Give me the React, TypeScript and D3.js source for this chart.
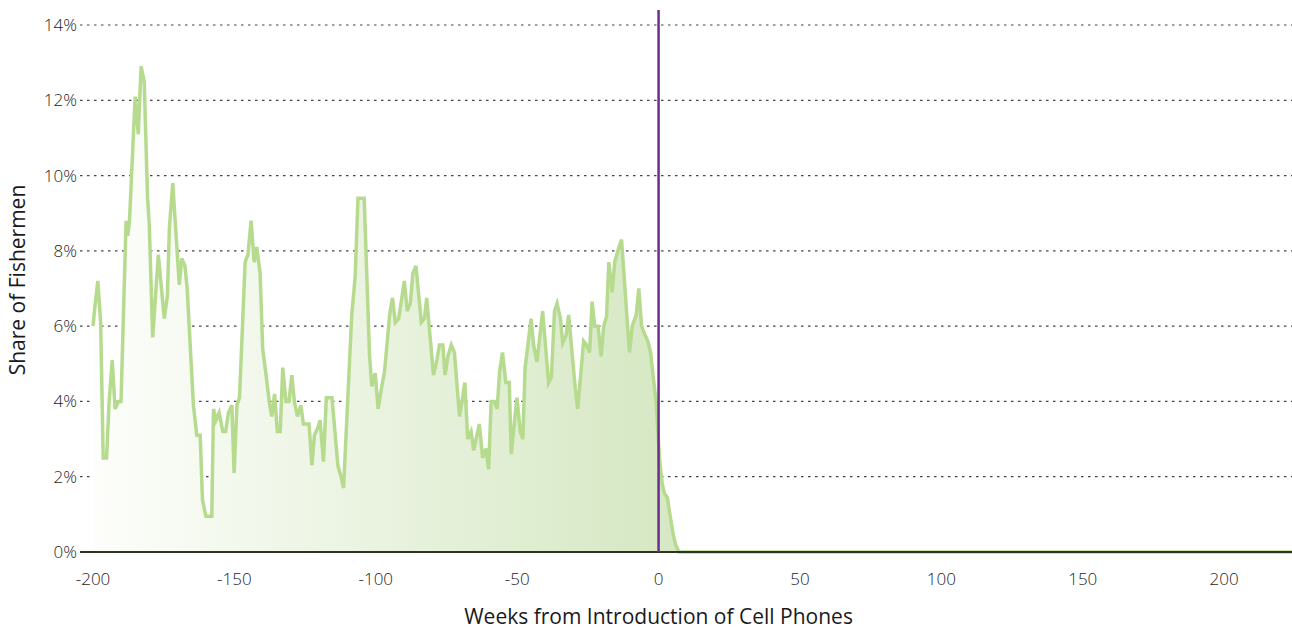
import * as d3 from "d3";
import { useEffect, useRef } from "react";

// weeks from introduction (x) and share of fishermen in % (y)
const weeks = [
  -200, -199.5, -198.3, -197.3, -196.4, -195.2, -194.3, -193.2, -192.2, -191, -190.1,
  -188.3, -187.7, -187.1, -185.1, -184, -183, -181.9, -180.7, -180.1, -178.9, -176.9,
  -174.8, -173.7, -173, -171.8, -169.5, -168.6, -167.5, -166.7, -164.5, -163.3, -162.1,
  -161.3, -160.1, -158, -157.4, -156.5, -155.4, -154.1, -153.1, -152.1, -150.9, -150.1,
  -149.1, -148.2, -146.2, -145.2, -144.1, -143, -142.1, -140.9, -140, -138.8, -137.7,
  -136.8, -135.8, -134.8, -133.8, -132.9, -131.8, -130.7, -129.7, -128.8, -127.7, -126.5,
  -125.6, -123.6, -122.6, -121.7, -120.5, -119.7, -118.5, -117.5, -115.5, -113.4, -112.3,
  -111.4, -108.5, -107.3, -106.3, -104.1, -102.2, -101.4, -100.2, -99.2, -98.1, -96.9,
  -95.1, -94.1, -93.1, -91.9, -89.9, -88.9, -87.8, -86.9, -85.8, -83.9, -82.8, -82,
  -79.6, -78.4, -77.5, -76.3, -75.5, -74.5, -73.3, -72.2, -70.4, -69.3, -68.5, -67.5,
  -66.3, -65.4, -63.4, -62.2, -61, -60.1, -59.2, -58.1, -57.1, -56.2, -55.2, -54, -52.8,
  -52.1, -50.1, -48.9, -48, -47.2, -46.2, -45.1, -44.2, -43, -41, -38.9, -37.9, -36.8,
  -35.9, -34.7, -33.9, -32.7, -31.8, -29.4, -28.6, -26.5, -25.5, -24.4, -23.5, -22.6,
  -21.4, -20.3, -19.4, -18.4, -17.6, -16.4, -15.5, -14.4, -13.1, -10.3, -9.3, -7.9, -7,
  -6, -5, -3.8, -2.8, -1.9, -0.8, 0.35, 1.3, 2.1, 3.1, 4, 5.1, 6, 7.2, 224,
];

const share = [
  6.0, 6.4, 7.2, 6.1, 2.5, 2.5, 4.0, 5.1, 3.8, 4.0, 4.0,
  8.8, 8.4, 8.8, 12.1, 11.1, 12.9, 12.5, 9.4, 8.7, 5.7, 7.9,
  6.2, 6.8, 8.6, 9.8, 7.1, 7.8, 7.6, 7.0, 3.9, 3.1, 3.1,
  1.4, 0.95, 0.95, 3.8, 3.5, 3.7, 3.2, 3.2, 3.7, 3.9, 2.1,
  3.9, 4.1, 7.7, 7.9, 8.8, 7.7, 8.1, 7.4, 5.4, 4.7, 4.0,
  3.6, 4.2, 3.2, 3.2, 4.9, 4.0, 4.0, 4.7, 4.0, 3.6, 3.9,
  3.4, 3.4, 2.3, 3.1, 3.3, 3.5, 2.4, 4.1, 4.1, 2.3, 2.0,
  1.7, 6.3, 7.3, 9.4, 9.4, 5.2, 4.4, 4.75, 3.8, 4.3, 4.8,
  6.3, 6.75, 6.1, 6.2, 7.2, 6.4, 6.6, 7.4, 7.6, 6.1, 6.2, 6.75,
  4.7, 5.1, 5.5, 5.5, 4.7, 5.2, 5.5, 5.3, 3.6, 4.1, 4.5, 3.0,
  3.2, 2.7, 3.4, 2.5, 2.75, 2.2, 4.0, 4.0, 3.8, 4.8, 5.3, 4.5, 4.5,
  2.6, 4.1, 3.2, 3.0, 4.9, 5.5, 6.2, 5.5, 5.05, 6.4, 4.5, 4.65, 6.4,
  6.6, 6.2, 5.55, 5.75, 6.3, 4.3, 3.8, 5.6, 5.5, 5.3, 6.65, 6.0,
  6.0, 5.2, 6.0, 6.25, 7.7, 6.9, 7.7, 8.0, 8.3, 5.3, 6.0, 6.3, 7.0,
  6.0, 5.8, 5.6, 5.3, 4.65, 3.95, 2.45, 1.8, 1.55, 1.45, 1.0, 0.5, 0.2, 0, 0,
];

const xTicks = [-200, -150, -100, -50, 0, 50, 100, 150, 200];
const yTicks = [2, 4, 6, 8, 10, 12, 14];

const FONT = "'Open Sans', 'Noto Sans', sans-serif";

export default function App() {
  const ref = useRef<SVGSVGElement>(null);

  useEffect(() => {
    const width = 1292;
    const height = 630;
    const svg = d3.select(ref.current);
    svg.selectAll("*").remove();
    svg.attr("width", width).attr("height", height);

    const x = d3.scaleLinear().domain([-204.6, 224]).range([80, 1292]);
    const y = d3.scaleLinear().domain([0, 14]).range([552, 25]);

    const pts = weeks.map((w, i) => [w, share[i]] as [number, number]);

    // gradient for the area
    const defs = svg.append("defs");
    const grad = defs
      .append("linearGradient")
      .attr("id", "fillGrad")
      .attr("gradientUnits", "userSpaceOnUse")
      .attr("x1", x(-200))
      .attr("x2", x(0))
      .attr("y1", 0)
      .attr("y2", 0);
    grad.append("stop").attr("offset", 0).attr("stop-color", "#fdfefb");
    grad.append("stop").attr("offset", 1).attr("stop-color", "#d6e8c4");

    // grid
    svg
      .append("g")
      .selectAll("line")
      .data(yTicks)
      .enter()
      .append("line")
      .attr("x1", 80)
      .attr("x2", width)
      .attr("y1", d => y(d))
      .attr("y2", d => y(d))
      .attr("stroke", "#444")
      .attr("stroke-width", 1.2)
      .attr("stroke-dasharray", "2.5,4.5");

    // area
    const area = d3
      .area<[number, number]>()
      .x(d => x(d[0]))
      .y0(y(0))
      .y1(d => y(d[1]));
    svg.append("path").datum(pts).attr("d", area).attr("fill", "url(#fillGrad)");

    // line
    const line = d3
      .line<[number, number]>()
      .x(d => x(d[0]))
      .y(d => y(d[1]));
    svg
      .append("path")
      .datum(pts)
      .attr("d", line)
      .attr("fill", "none")
      .attr("stroke", "#b6db8f")
      .attr("stroke-width", 3.5)
      .attr("stroke-linejoin", "miter");

    // baseline axis
    svg
      .append("line")
      .attr("x1", 80)
      .attr("x2", width)
      .attr("y1", y(0))
      .attr("y2", y(0))
      .attr("stroke", "#2e3328")
      .attr("stroke-width", 2);

    // introduction marker
    svg
      .append("line")
      .attr("x1", x(0))
      .attr("x2", x(0))
      .attr("y1", 10)
      .attr("y2", y(0))
      .attr("stroke", "#6b2d90")
      .attr("stroke-width", 2.5);

    // y tick labels
    svg
      .append("g")
      .selectAll("text")
      .data([0, ...yTicks])
      .enter()
      .append("text")
      .attr("x", 77)
      .attr("y", d => y(d))
      .attr("dy", "0.35em")
      .attr("text-anchor", "end")
      .attr("fill", "#1e1e1e")
      .style("font-family", FONT)
      .style("font-size", "17px")
      .style("font-weight", 300)
      .text(d => `${d}%`);

    // x tick labels
    svg
      .append("g")
      .selectAll("text")
      .data(xTicks)
      .enter()
      .append("text")
      .attr("x", d => x(d))
      .attr("y", 585)
      .attr("text-anchor", "middle")
      .attr("fill", "#1e1e1e")
      .style("font-family", FONT)
      .style("font-size", "17px")
      .style("font-weight", 300)
      .text(d => `${d}`);

    // axis titles
    svg
      .append("text")
      .attr("x", x(0))
      .attr("y", 624)
      .attr("text-anchor", "middle")
      .attr("fill", "#1a1a1a")
      .style("font-family", FONT)
      .style("font-size", "21px")
      .text("Weeks from Introduction of Cell Phones");

    svg
      .append("text")
      .attr("transform", "rotate(-90)")
      .attr("x", -280)
      .attr("y", 25)
      .attr("text-anchor", "middle")
      .attr("fill", "#1a1a1a")
      .style("font-family", FONT)
      .style("font-size", "21px")
      .text("Share of Fishermen");
  }, []);

  return (
    <div style={{ position: "fixed", left: 0, top: 0, background: "#fff" }}>
      <svg ref={ref} style={{ display: "block" }} />
    </div>
  );
}
